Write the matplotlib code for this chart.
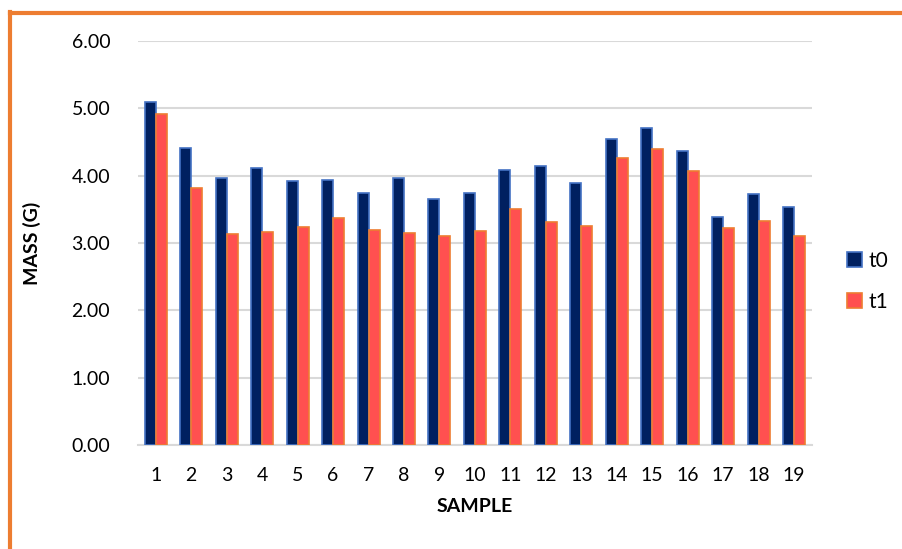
import matplotlib.pyplot as plt
import numpy as np
from matplotlib.lines import Line2D

plt.rcParams['font.family'] = ['Lato', 'DejaVu Sans']

samples = [str(i) for i in range(1, 20)]
t0 = [5.09, 4.41, 3.96, 4.12, 3.92, 3.93, 3.75, 3.96, 3.65, 3.75,
      4.08, 4.15, 3.89, 4.55, 4.71, 4.37, 3.38, 3.73, 3.53]
t1 = [4.92, 3.82, 3.14, 3.17, 3.24, 3.37, 3.20, 3.15, 3.10, 3.18,
      3.51, 3.31, 3.25, 4.26, 4.40, 4.07, 3.23, 3.33, 3.10]
yticks = [0, 1, 2, 3, 4, 5, 6]

fig = plt.figure(figsize=(9.02, 5.49), dpi=100)
ax = fig.add_axes([0.153, 0.1894, 0.747, 0.7359])

x = np.arange(len(samples))
w = 0.31
ax.bar(x - w / 2, t0, w, color='#002060', edgecolor='#4472C4', linewidth=1.2, label='t0', zorder=3)
ax.bar(x + w / 2, t1, w, color='#FF5050', edgecolor='#ED7D31', linewidth=1.2, label='t1', zorder=3)

ax.set_xlim(-0.5, len(samples) - 0.5)
ax.set_ylim(0, 6)
ax.set_yticks(yticks)
ax.set_yticklabels([f'{v:.2f}' for v in yticks])
ax.set_xticks(x)
ax.set_xticklabels(samples)
ax.tick_params(length=0, labelsize=14, colors='black')
ax.tick_params(axis='x', pad=16)
ax.tick_params(axis='y', pad=20)

ax.yaxis.grid(True, color='#D9D9D9', linewidth=1.5, zorder=0)
for s in ['top', 'right', 'left']:
    ax.spines[s].set_visible(False)
ax.spines['bottom'].set_color('#D9D9D9')
ax.spines['bottom'].set_linewidth(1.5)

ax.set_ylabel('MASS (G)', fontsize=14, fontweight='bold', labelpad=22)
ax.set_xlabel('SAMPLE', fontsize=14, fontweight='bold', labelpad=10)

leg = ax.legend(loc='center left', bbox_to_anchor=(1.025, 0.405), frameon=False,
                fontsize=15, handlelength=0.7, handleheight=0.7,
                labelspacing=1.0, handletextpad=0.3)

# orange frame, left and top edges
fig.add_artist(Line2D([0.0115, 0.0115], [0, 0.978], color='#ED7D31', linewidth=3))
fig.add_artist(Line2D([0.0115, 1.0], [0.977, 0.977], color='#ED7D31', linewidth=3))

fig.savefig('out.png', dpi=100)
